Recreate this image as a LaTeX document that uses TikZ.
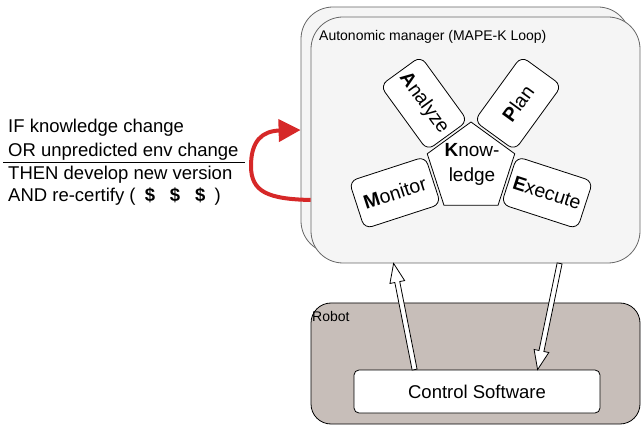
\documentclass[tikz,border=0pt]{standalone}
\usepackage{fontspec}
\setmainfont{Liberation Sans}
\usetikzlibrary{shapes.geometric,arrows.meta,calc}
\definecolor{boxfill}{HTML}{F5F5F5}
\definecolor{boxline}{HTML}{666666}
\definecolor{robotfill}{RGB}{199,190,185}
\definecolor{arrred}{RGB}{214,40,40}
\newcommand{\hollowarrow}[3]{%
  \coordinate (#3h) at ($(#2)!19pt!(#1)$);
  \draw[fill=white, line width=0.8pt, line join=miter]
    ($(#1)!2.5pt!90:(#2)$) -- ($(#3h)!2.5pt!-90:(#1)$) -- ($(#3h)!7.5pt!-90:(#1)$)
    -- (#2) -- ($(#3h)!7.5pt!90:(#1)$) -- ($(#3h)!2.5pt!90:(#1)$)
    -- ($(#1)!2.5pt!-90:(#2)$) -- cycle;
}
\begin{document}
\begin{tikzpicture}[x=1pt,y=1pt,
  mgr/.style={draw=boxline, fill=boxfill, rounded corners=32pt, minimum width=329pt, minimum height=246pt, inner sep=0, line width=0.8pt},
  mape/.style={draw, fill=white, rounded corners=8pt, minimum width=80pt, minimum height=50pt, inner sep=0, line width=0.8pt, font=\fontsize{19.5}{21}\selectfont},
  pent/.style={draw, fill=white, regular polygon, regular polygon sides=5, minimum size=92pt, inner sep=0, line width=0.8pt},
  lbl/.style={inner sep=0, anchor=base west},
  big/.style={font=\fontsize{18.5}{22}\selectfont},
  small/.style={font=\fontsize{14}{16}\selectfont},
  redarrow/.style={draw=arrred, line width=4pt, -{Triangle[length=22pt,width=22pt]}}]
\useasboundingbox (0,0) rectangle (641,-425);
% autonomic manager boxes
\node[mgr] (mb) at (465.5,-130) {};
\node[mgr] (mf) at (475.5,-140) {};
\node[lbl, small] (title) at (319,-41) {Autonomic manager (MAPE-K Loop)};
% MAPE-K
\node[pent] (K) at (471,-168) {};
\node[align=center, inner sep=0, font=\fontsize{19}{25}\selectfont] (kt) at ($(K.center)+(1,4)$) {\textbf{K}now-\\ledge};
\node[mape, rotate=-54] (A) at ($(K.center)+(126:80pt)$) {\textbf{A}nalyze};
\node[mape, rotate=54] (P) at ($(K.center)+(54:80pt)$) {\textbf{P}lan};
\node[mape, rotate=18] (M) at ($(K.center)+(198:80pt)$) {\textbf{M}onitor};
\node[mape, rotate=-18] (E) at ($(K.center)+(-18:80pt)$) {\textbf{E}xecute};
% robot
\node[draw, fill=robotfill, rounded corners=20pt, minimum width=329pt, minimum height=121pt, inner sep=0, line width=0.8pt] (robot) at (475.5,-363.5) {};
\node[lbl, small] (robotlbl) at (312,-322) {Robot};
\node[draw, fill=white, rounded corners=5pt, minimum width=246pt, minimum height=43pt, inner sep=0, line width=0.8pt, big] (cs) at (477,-391.5) {Control Software};
% block arrows
\coordinate (u0) at ($(cs.north west)+(61,0)$);
\coordinate (u1) at ($(mf.south west)+(83,0)$);
\coordinate (d0) at ($(mf.south west)+(249,0)$);
\coordinate (d1) at ($(cs.north west)+(184,0)$);
\hollowarrow{u0}{u1}{ua}
\hollowarrow{d0}{d1}{da}
% left rule text
\node[lbl, big] (t1) at (8,-133) {IF knowledge change};
\node[lbl, big] (t2) at (8,-157) {OR unpredicted env change};
\node[lbl, big] (t3) at (8,-180) {THEN develop new version};
\node[lbl, big] (t4) at (8,-202) {AND re-certify (\hspace{0.5em}\textbf{\$}\hspace{0.8em}\textbf{\$}\hspace{0.8em}\textbf{\$}\hspace{0.5em})};
\coordinate (r0) at (3,-162);
\coordinate (r1) at (245,-162);
\draw[line width=0.8pt] (r0) -- (r1);
% red loop arrow
\draw[redarrow] ($(mf.west)+(0,-60)$) .. controls (268,-199) and (251,-192) .. (251,-166)
  .. controls (251,-141) and (262,-131) .. (mb.west);
\end{tikzpicture}
\end{document}
